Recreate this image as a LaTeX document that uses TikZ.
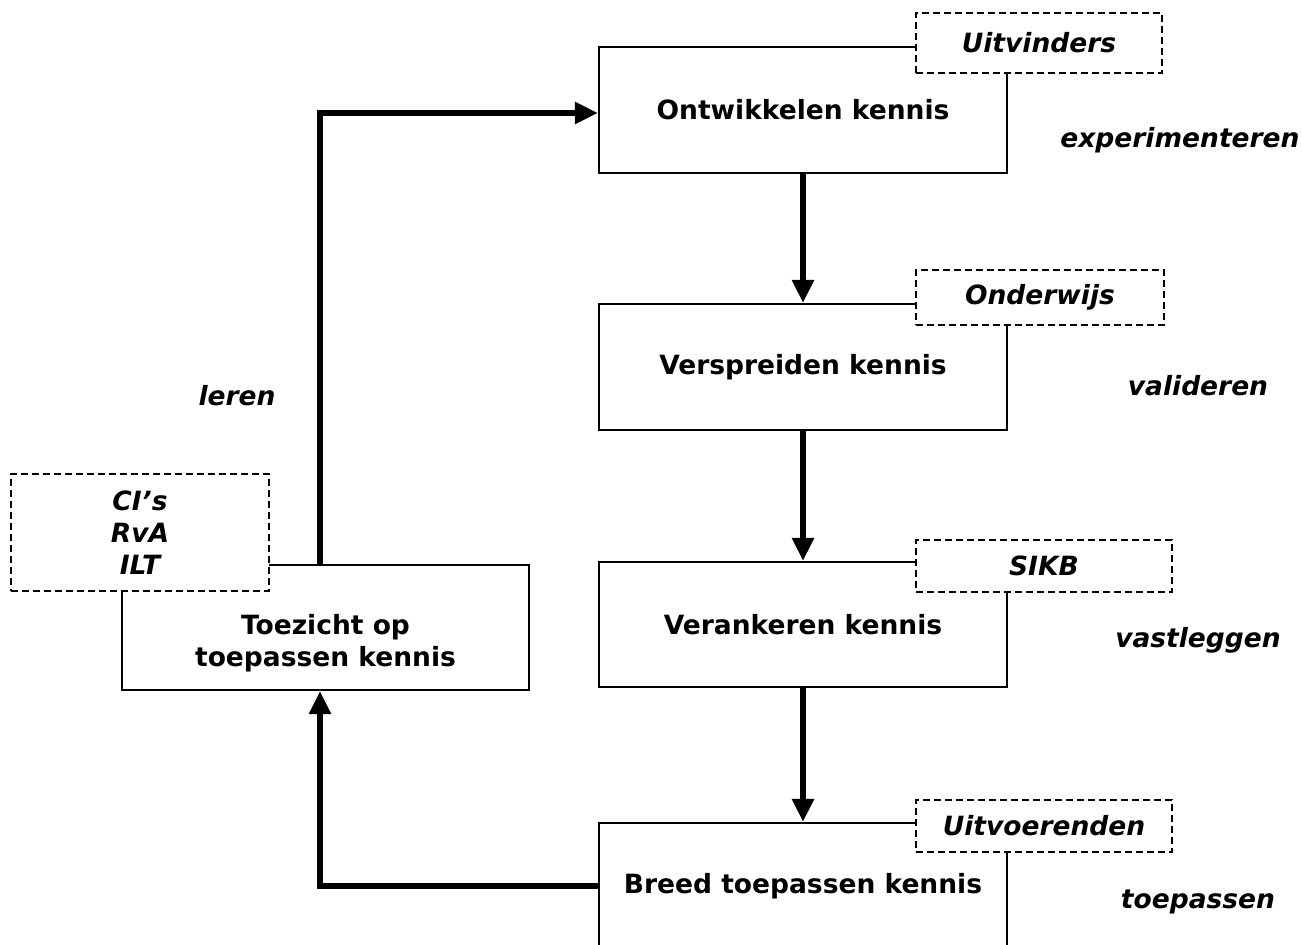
\documentclass[tikz,border=0pt]{standalone}
\usepackage{fontspec}
\setmainfont{DejaVu Sans}
\usetikzlibrary{arrows.meta}
\begin{document}
\begin{tikzpicture}[x=1pt,y=-1pt,
  box/.style={draw, line width=2.2pt, minimum width=408pt, inner sep=0pt, font=\bfseries\fontsize{26.5}{32}\selectfont, align=center},
  dbox/.style={draw, dash pattern=on 7pt off 4pt, fill=white, line width=2.2pt, inner sep=0pt, font=\bfseries\itshape\fontsize{26.5}{32}\selectfont, align=center},
  lbl/.style={font=\bfseries\itshape\fontsize{26.5}{32}\selectfont},
  btxt/.style={font=\bfseries\fontsize{26.5}{32}\selectfont, align=center},
  flow/.style={line width=6.5pt, -{Triangle[width=21pt,length=23pt]}}
]
\useasboundingbox (0,0) rectangle (1302,945);
\clip (0,0) rectangle (1302,945);
\fill[white] (0,0) rectangle (1302,945);

% main boxes
\node[box, minimum height=126pt] (b1) at (803,110) {Ontwikkelen kennis};
\node[box, minimum height=126pt] (b2) at (803,367) {Verspreiden kennis};
\node[box, minimum height=125pt] (b3) at (803,624.5) {Verankeren kennis};
\node[box, minimum height=126pt] (b4) at (803,886) {Breed toepassen kennis};
\node[box, minimum height=125pt, minimum width=407pt] (b5) at (325.5,627.5) {};
\node[btxt] (b5t) at (325.5,643) {Toezicht op\\toepassen kennis};

% actor boxes (dashed)
\node[dbox, minimum width=246pt, minimum height=60pt] (d1) at (1039,43) {Uitvinders};
\node[dbox, minimum width=248pt, minimum height=55pt] (d2) at (1040,297.5) {Onderwijs};
\node[dbox, minimum width=256pt, minimum height=52pt] (d3) at (1044,566) {SIKB};
\node[dbox, minimum width=256pt, minimum height=52pt] (d4) at (1044,826) {Uitvoerenden};
\node[dbox, minimum width=258pt, minimum height=117pt] (d5) at (140,532.5) {CI’s\\RvA\\ILT};

% connectors
\draw[flow] (b1.south) -- (b2.north);
\draw[flow] (b2.south) -- (b3.north);
\draw[flow] (b3.south) -- (b4.north);
\draw[flow] (b4.west) -| ([xshift=-5.5pt]b5.south);
\draw[flow] ([xshift=-5.5pt]b5.north) |- ([yshift=-3pt]b1.west);

% labels
\node[lbl] (l1) at (1180,140) {experimenteren};
\node[lbl] (l2) at (1198,386) {valideren};
\node[lbl] (l3) at (1198,640) {vastleggen};
\node[lbl] (l4) at (1198,902) {toepassen};
\node[lbl] (l5) at (237,396) {leren};
\end{tikzpicture}
\end{document}
